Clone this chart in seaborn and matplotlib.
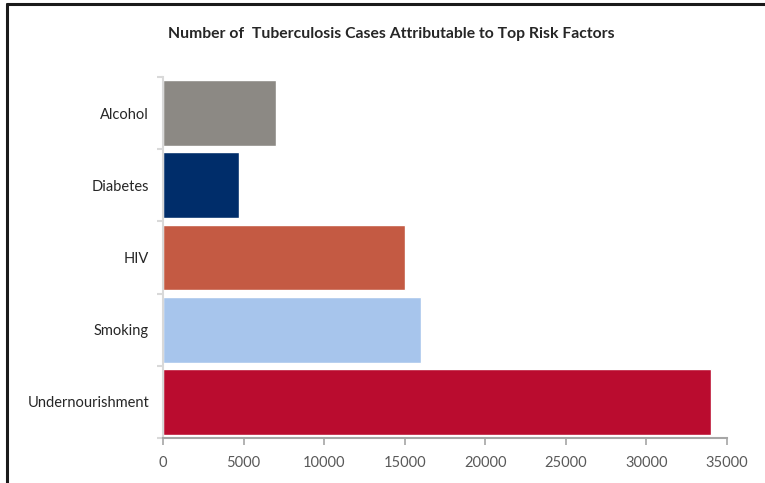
import numpy as np
import pandas as pd
import seaborn as sns
import matplotlib.pyplot as plt
from matplotlib.lines import Line2D

factors = ["Alcohol", "Diabetes", "HIV", "Smoking", "Undernourishment"]
cases = [7000, 4700, 15000, 16000, 34000]
colors = ["#8C8984", "#002D6A", "#C45A43", "#A7C5EC", "#BA0C2F"]
xticks = [0, 5000, 10000, 15000, 20000, 25000, 30000, 35000]

sns.set_style("white")
plt.rcParams['font.family'] = ['Lato', 'DejaVu Sans']

df = pd.DataFrame({"factor": factors, "cases": cases})

fig = plt.figure(figsize=(7.65, 4.83), dpi=100)
ax = fig.add_axes([0.2131, 0.0932, 0.7372, 0.7474])

sns.barplot(data=df, x="cases", y="factor", hue="factor", palette=colors,
            order=factors, hue_order=factors, width=0.91, legend=False,
            saturation=1, ax=ax)

ax.set_xlim(0, 35000)
ax.set_ylim(len(factors) - 0.5, -0.5)
ax.set_xticks(xticks)
ax.set_xticklabels([str(t) for t in xticks])
ax.set_xlabel("")
ax.set_ylabel("")

for s in ["top", "right"]:
    ax.spines[s].set_visible(False)
ax.spines["left"].set_color("#D9D9D9")
ax.spines["left"].set_linewidth(1.5)
ax.spines["bottom"].set_color("#A6A6A6")
ax.spines["bottom"].set_linewidth(1.5)

ax.tick_params(axis="x", direction="out", length=5, width=1.2, color="#A6A6A6",
               labelcolor="#595959", labelsize=10.5, pad=8, bottom=True)
ax.tick_params(axis="y", which="major", length=0, labelcolor="#262626",
               labelsize=10.5, pad=10)
ax.set_yticks(np.arange(-0.5, len(factors)), minor=True)
ax.tick_params(axis="y", which="minor", direction="out", length=4, width=1.5,
               color="#D9D9D9", left=True)

fig.text(0.512, 0.930, "Number of  Tuberculosis Cases Attributable to Top Risk Factors",
         ha="center", va="center", fontsize=11.3, fontweight="bold", color="#262626")

fig.add_artist(Line2D([0.0092, 0.0092], [0, 0.991], color="#1a1a1a", lw=2.2))
fig.add_artist(Line2D([0.0092, 1.0], [0.991, 0.991], color="#1a1a1a", lw=2.2))

fig.savefig("out.png", dpi=100)
